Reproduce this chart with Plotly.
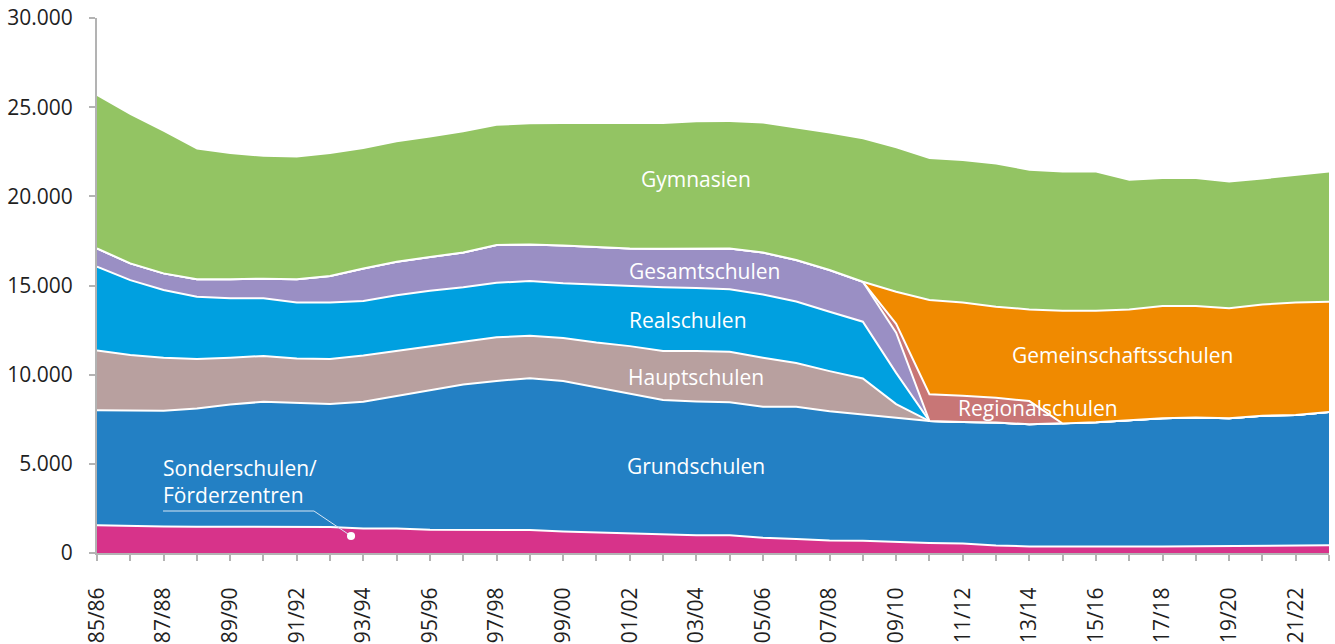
"""Schüler an allgemeinbildenden Schulen nach Schularten, gestapelte Flächen."""
import plotly.graph_objects as go

years = ['85/86', '86/87', '87/88', '88/89', '89/90', '90/91', '91/92', '92/93',
         '93/94', '94/95', '95/96', '96/97', '97/98', '98/99', '99/00', '00/01',
         '01/02', '02/03', '03/04', '04/05', '05/06', '06/07', '07/08', '08/09',
         '09/10', '10/11', '11/12', '12/13', '13/14', '14/15', '15/16', '16/17',
         '17/18', '18/19', '19/20', '20/21', '21/22', '22/23']

sonderschulen = [1550, 1500, 1480, 1470, 1460, 1450, 1480, 1460, 1380, 1380,
                 1300, 1300, 1330, 1290, 1200, 1150, 1100, 1020, 1000, 1000,
                 850, 780, 700, 680, 600, 560, 530, 420, 370, 360,
                 330, 360, 370, 380, 400, 400, 420, 430]
grundschulen = [6450, 6480, 6490, 6630, 6870, 7030, 6920, 6890, 7100, 7420,
                7800, 8150, 8320, 8510, 8450, 8150, 7850, 7560, 7500, 7450,
                7350, 7420, 7250, 7100, 7000, 6840, 6820, 6900, 6845, 6900,
                7000, 7090, 7190, 7220, 7160, 7300, 7320, 7470]
hauptschulen = [3350, 3120, 2980, 2780, 2620, 2570, 2500, 2530, 2600, 2550,
                2500, 2400, 2450, 2380, 2400, 2500, 2650, 2750, 2830, 2840,
                2750, 2450, 2250, 2010, 750, 0, 0, 0, 0, 0,
                0, 0, 0, 0, 0, 0, 0, 0]
realschulen = [4700, 4200, 3800, 3490, 3330, 3230, 3150, 3170, 3050, 3100,
               3100, 3050, 3050, 3070, 3080, 3250, 3370, 3570, 3530, 3500,
               3550, 3450, 3330, 3180, 1750, 0, 0, 0, 0, 0,
               0, 0, 0, 0, 0, 0, 0, 0]
gesamtschulen = [1030, 940, 930, 980, 1070, 1100, 1300, 1480, 1820, 1880,
                 1900, 1950, 2120, 2050, 2120, 2130, 2110, 2160, 2210, 2290,
                 2350, 2330, 2340, 2240, 2250, 0, 0, 0, 0, 0,
                 0, 0, 0, 0, 0, 0, 0, 0]
regionalschulen = [0, 0, 0, 0, 0, 0, 0, 0, 0, 0,
                   0, 0, 0, 0, 0, 0, 0, 0, 0, 0,
                   0, 0, 0, 0, 500, 1500, 1470, 1390, 1305, 0,
                   0, 0, 0, 0, 0, 0, 0, 0]
gemeinschaftsschulen = [0, 0, 0, 0, 0, 0, 0, 0, 0, 0,
                        0, 0, 0, 0, 0, 0, 0, 0, 0, 0,
                        0, 0, 0, 0, 1800, 5290, 5220, 5100, 5140, 6330,
                        6260, 6210, 6290, 6250, 6160, 6240, 6300, 6190]
gymnasien = [8540, 8320, 7940, 7280, 7020, 6840, 6830, 6840, 6700, 6700,
             6700, 6750, 6690, 6740, 6800, 6870, 6960, 6990, 7080, 7090,
             7240, 7380, 7660, 7990, 8050, 7900, 7940, 7980, 7780, 7750,
             7750, 7220, 7120, 7120, 7060, 7010, 7120, 7250]

series = [
    ('Sonderschulen/Förderzentren', sonderschulen, '#D7338A'),
    ('Grundschulen', grundschulen, '#2380C4'),
    ('Hauptschulen', hauptschulen, '#B8A09F'),
    ('Realschulen', realschulen, '#00A0E0'),
    ('Gesamtschulen', gesamtschulen, '#9A8FC4'),
    ('Regionalschulen', regionalschulen, '#C87676'),
    ('Gemeinschaftsschulen', gemeinschaftsschulen, '#F08A00'),
    ('Gymnasien', gymnasien, '#93C463'),
]

FONT = 'Open Sans'
TEXT = '#1f1f1f'
AXIS = '#b3b3b3'

fig = go.Figure()
for name, values, color in series:
    top = name == 'Gymnasien'
    fig.add_trace(go.Scatter(
        x=years, y=values, name=name,
        mode='lines', stackgroup='one',
        line=dict(color=color if top else 'white', width=0 if top else 2),
        fillcolor=color,
        hoverinfo='x+y+name',
    ))

# labels inside the areas (x = category index, y = value)
labels = [
    ('Gymnasien', 18.0, 21000),
    ('Gesamtschulen', 18.25, 15800),
    ('Realschulen', 17.75, 13050),
    ('Hauptschulen', 18.0, 9870),
    ('Grundschulen', 18.0, 4880),
    ('Gemeinschaftsschulen', 30.8, 11100),
    ('Regionalschulen', 28.25, 8130),
]
for text, xi, yv in labels:
    fig.add_annotation(x=xi, y=yv, text=text, showarrow=False,
                       font=dict(family=FONT, size=21, color='white'))

fig.add_annotation(x=1.92, y=4000, text='Sonderschulen/<br>Förderzentren',
                   showarrow=False, xanchor='left', align='left',
                   font=dict(family=FONT, size=21, color='white'))

# leader line to the Sonderschulen band
fig.add_shape(type='path', xref='paper', yref='paper',
              path='M 0.0536,0.0785 L 0.1761,0.0785 L 0.2062,0.0318',
              line=dict(color='#d8e6f3', width=1))
fig.add_shape(type='circle', xref='paper', yref='paper',
              x0=0.2062 - 0.0033, x1=0.2062 + 0.0033,
              y0=0.0318 - 0.0076, y1=0.0318 + 0.0076,
              fillcolor='white', line=dict(color='white', width=0))

fig.update_layout(
    width=1335, height=644,
    margin=dict(l=97, r=6, t=18, b=91),
    paper_bgcolor='white', plot_bgcolor='white',
    showlegend=False,
    separators=',.',
    font=dict(family=FONT, size=21, color=TEXT),
    xaxis=dict(
        type='category',
        range=[0, len(years) - 1],
        tickmode='array',
        tickvals=years,
        ticktext=[y if i % 2 == 0 else '' for i, y in enumerate(years)],
        tickangle=-90,
        ticks='outside', ticklen=6, tickwidth=2, tickcolor=AXIS,
        showline=True, linecolor=AXIS, linewidth=2,
        showgrid=False, zeroline=False,
        automargin=False,
        ticklabelstandoff=18,
        tickfont=dict(family=FONT, size=21, color=TEXT),
    ),
    yaxis=dict(
        range=[0, 30000],
        tickvals=[0, 5000, 10000, 15000, 20000, 25000, 30000],
        tickformat=',d',
        ticks='outside', ticklen=6, tickwidth=2, tickcolor=AXIS,
        showline=True, linecolor=AXIS, linewidth=2,
        showgrid=False, zeroline=False,
        automargin=False,
        ticklabelstandoff=12,
        tickfont=dict(family=FONT, size=21, color=TEXT),
    ),
)

# drop the browser's default body margin so the figure sits at the page corner
fig.write_html('out.html', config={'displayModeBar': False},
               post_script="document.body.style.margin = '0';")
